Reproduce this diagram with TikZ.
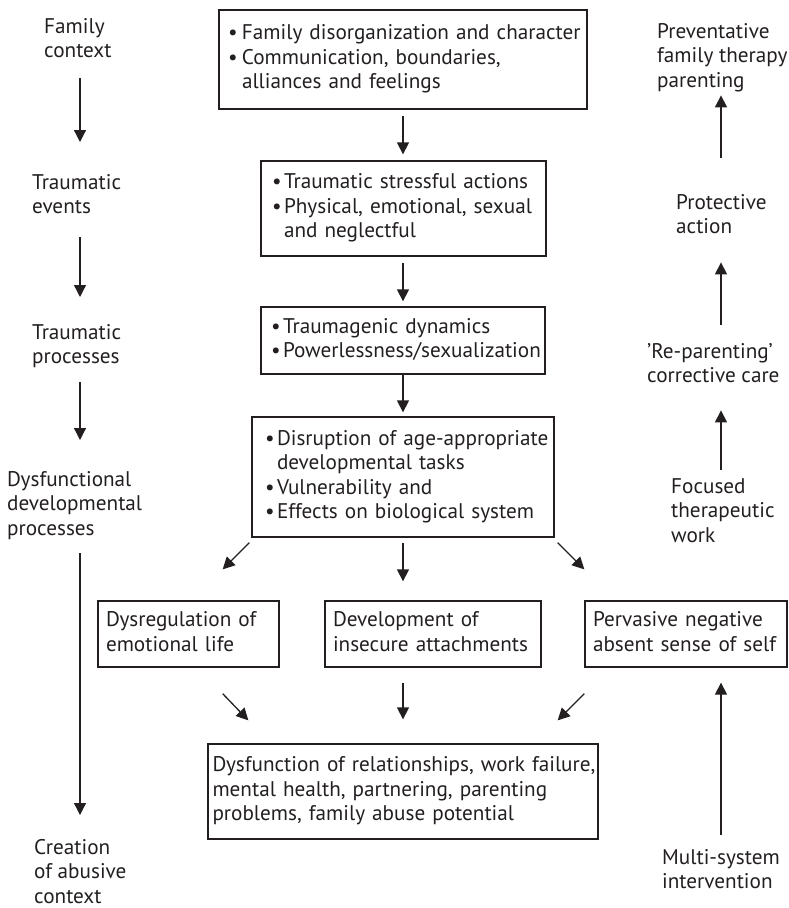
\documentclass[tikz,border=0pt]{standalone}
\usepackage{fontspec}
\setmainfont{PT Sans}
\usetikzlibrary{arrows.meta}
\definecolor{ink}{HTML}{231F20}
% bullet and hanging indent for list lines
\newcommand{\bul}[1][12pt]{\makebox[#1][l]{•}}
\newcommand{\hang}[1][12pt]{\hspace*{#1}}
% left padding inside a box, and the end of a box text
\newcommand{\pad}[1]{\leftskip=#1\relax}
\newcommand{\fin}{\strut\par}
\begin{document}
\begin{tikzpicture}[x=1pt,y=-1pt,
  every node/.style={font=\fontsize{21.2}{24.5}\selectfont, text=ink, inner sep=0pt},
  caption/.style={align=left, anchor=north west},
  box/.style={draw=ink, line width=1.3pt, align=left, inner ysep=0pt, inner xsep=1pt},
  arr/.style={draw=ink, line width=1.3pt, -{Triangle[length=12pt,width=12pt]}},
]
\useasboundingbox (0,0) rectangle (788,908);

% arrow columns
\coordinate (colL) at (80,0);
\coordinate (colC) at (403,0);
\coordinate (colR) at (721,0);

% ---- left column: stages
\node[caption] (l1) at (44,16)  {\strut Family\\context\strut};
\node[caption] (l2) at (32,172) {\strut Traumatic\\events\strut};
\node[caption] (l3) at (32,322) {\strut Traumatic\\processes\strut};
\node[caption] (l4) at (7,469)  {\strut Dysfunctional\\developmental\\processes\strut};
\node[caption] (l5) at (34,837) {\strut Creation\\of abusive\\context\strut};

% ---- centre column: boxes
\node[box, text width=366pt, minimum height=99pt] (b1) at (403,59.5)
  {\pad{8pt}\strut\bul[14pt]Family disorganization and character\\
   \bul[14pt]Communication, boundaries,\\
   \hang[14pt]alliances and feelings\fin};
\node[box, text width=283pt, minimum height=95pt] (b2) at (403.5,208.5)
  {\pad{10pt}\strut\bul Traumatic stressful actions\\
   \bul Physical, emotional, sexual\\
   \hang and neglectful\fin};
\node[box, text width=282pt, minimum height=67pt] (b3) at (403,340.5)
  {\pad{9pt}\strut\bul Traumagenic dynamics\\
   \bul Powerlessness/sexualization\fin};
\node[box, text width=300pt, minimum height=120pt] (b4) at (403,477)
  {\pad{12pt}\strut\bul Disruption of age-appropriate\\
   \hang developmental tasks\\
   \bul Vulnerability and\\
   \bul Effects on biological system\fin};

\node[box, text width=179pt, minimum height=66pt] (bl) at (188.5,634)
  {\pad{7pt}\strut Dysregulation of\\emotional life\fin};
\node[box, text width=214pt, minimum height=66pt] (bm) at (433,634)
  {\pad{7pt}\strut Development of\\insecure attachments\fin};
\node[box, text width=200pt, minimum height=66pt] (br) at (686,634)
  {\pad{7pt}\strut Pervasive negative\\absent sense of self\fin};

\node[box, text width=388pt, minimum height=95pt] (bot) at (403,791.5)
  {\pad{3.5pt}\strut Dysfunction of relationships, work failure,\\
   mental health, partnering, parenting\\
   problems, family abuse potential\fin};

% ---- right column: interventions
\node[caption] (r1) at (657,21)  {\strut Preventative\\family therapy\\parenting\strut};
\node[caption] (r2) at (676,192) {\strut Protective\\action\strut};
\node[caption] (r3) at (647,341) {\strut 'Re-parenting'\\corrective care\strut};
\node[caption] (r4) at (671,476) {\strut Focused\\therapeutic\\work\strut};
\node[caption] (r5) at (662,847) {\strut Multi-system\\intervention\strut};

% ---- left arrows
\draw[arr, shorten <=13pt, shorten >=30pt] (l1.south -| colL) -- (l2.north -| colL);
\draw[arr, shorten <=16pt, shorten >=25pt] (l2.south -| colL) -- (l3.north -| colL);
\draw[arr, shorten <=11pt, shorten >=29pt] (l3.south -| colL) -- (l4.north -| colL);
\draw[arr, shorten <=10.5pt, shorten >=22pt] (l4.south -| colL) -- (l5.north -| colL);

% ---- centre arrows
\draw[arr, shorten <=6pt, shorten >=6pt] (b1.south -| colC) -- (b2.north -| colC);
\draw[arr, shorten <=6pt, shorten >=5pt] (b2.south -| colC) -- (b3.north -| colC);
\draw[arr, shorten >=4pt] (b3.south -| colC) -- (b4.north -| colC);
\draw[arr, shorten <=5pt, shorten >=19pt] (b4.south -| colC) -- (bm.north -| colC);
\draw[arr] ([shift={(-2,5)}]b4.south west) -- ([shift={(-57,-31)}]bl.north east);
\draw[arr] ([shift={(3,5)}]b4.south east) -- ([shift={(0,-31)}]br.north west);

\draw[arr, shorten <=15pt, shorten >=24pt] (bm.south -| colC) -- (bot.north -| colC);
\draw[arr] ([shift={(-57,26)}]bl.south east) -- ([shift={(41,-23)}]bot.north west);
\draw[arr] ([shift={(0,26)}]br.south west) -- ([shift={(-41,-23)}]bot.north east);

% ---- right arrows
\draw[arr, shorten <=34pt, shorten >=0.5pt] (r2.north -| colR) -- (r1.south -| colR);
\draw[arr, shorten <=16pt, shorten >=21pt] (r3.north -| colR) -- (r2.south -| colR);
\draw[arr, shorten <=6pt, shorten >=20pt] (r4.north -| colR) -- (r3.south -| colR);
\draw[arr, shorten <=12pt, shorten >=15pt] (r5.north -| colR) -- (br.south -| colR);
\end{tikzpicture}
\end{document}
